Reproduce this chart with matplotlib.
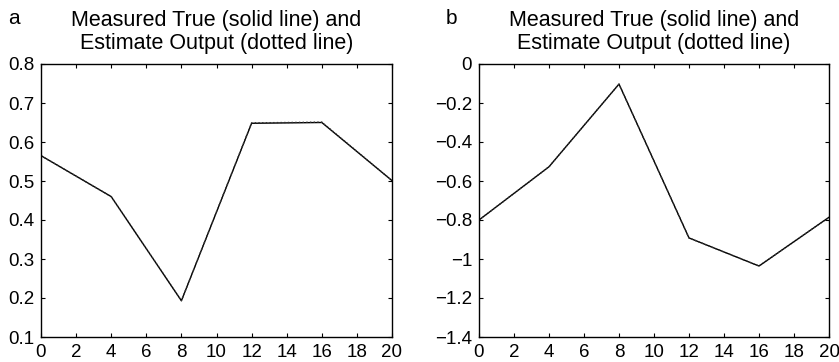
import matplotlib.pyplot as plt
from matplotlib.ticker import FuncFormatter

plt.rcParams['font.family'] = ['Liberation Sans', 'DejaVu Sans']
plt.rcParams['axes.unicode_minus'] = True

# data
x = [0, 4, 8, 12, 16, 20]
true_a = [0.565, 0.460, 0.193, 0.648, 0.650, 0.501]
est_a = [0.565, 0.460, 0.193, 0.649, 0.651, 0.501]
true_b = [-0.800, -0.527, -0.103, -0.892, -1.036, -0.786]
est_b = [-0.800, -0.527, -0.103, -0.892, -1.036, -0.786]

xticks = list(range(0, 21, 2))
yticks_a = [0.1, 0.2, 0.3, 0.4, 0.5, 0.6, 0.7, 0.8]
yticks_b = [-1.4, -1.2, -1.0, -0.8, -0.6, -0.4, -0.2, 0]

title = 'Measured True (solid line) and\nEstimate Output (dotted line)'

fig = plt.figure(figsize=(8.39, 3.62), dpi=100)
W, H = 839, 362
ax_a = fig.add_axes([41 / W, 1 - 337 / H, (392 - 41) / W, (337 - 64) / H])
ax_b = fig.add_axes([479 / W, 1 - 337 / H, (829 - 479) / W, (337 - 64) / H])

fmt = FuncFormatter(lambda v, p: ('%g' % v).replace('-', '\u2212'))

for ax, yt, yv, ev, lab in [(ax_a, yticks_a, true_a, est_a, 'a'),
                            (ax_b, yticks_b, true_b, est_b, 'b')]:
    ax.plot(x, yv, color='black', lw=1.0, ls='-')
    ax.plot(x, ev, color='#333333', lw=1.0, ls=':')
    ax.set_xlim(0, 20)
    ax.set_ylim(yt[0], yt[-1])
    ax.set_xticks(xticks)
    ax.set_yticks(yt)
    ax.yaxis.set_major_formatter(fmt)
    ax.tick_params(direction='in', top=True, right=True, length=3,
                   width=0.8, labelsize=13.5)
    ax.tick_params(axis='x', pad=5)
    ax.tick_params(axis='y', pad=5)
    for s in ax.spines.values():
        s.set_linewidth(1.0)
    ax.set_title(title, fontsize=15.5, pad=11, linespacing=1.1)
    fig.text(ax.get_position().x0 - 33 / W, 1 - 18 / H, lab, fontsize=15,
             va='center', ha='left')

fig.savefig('out.png', dpi=100)
